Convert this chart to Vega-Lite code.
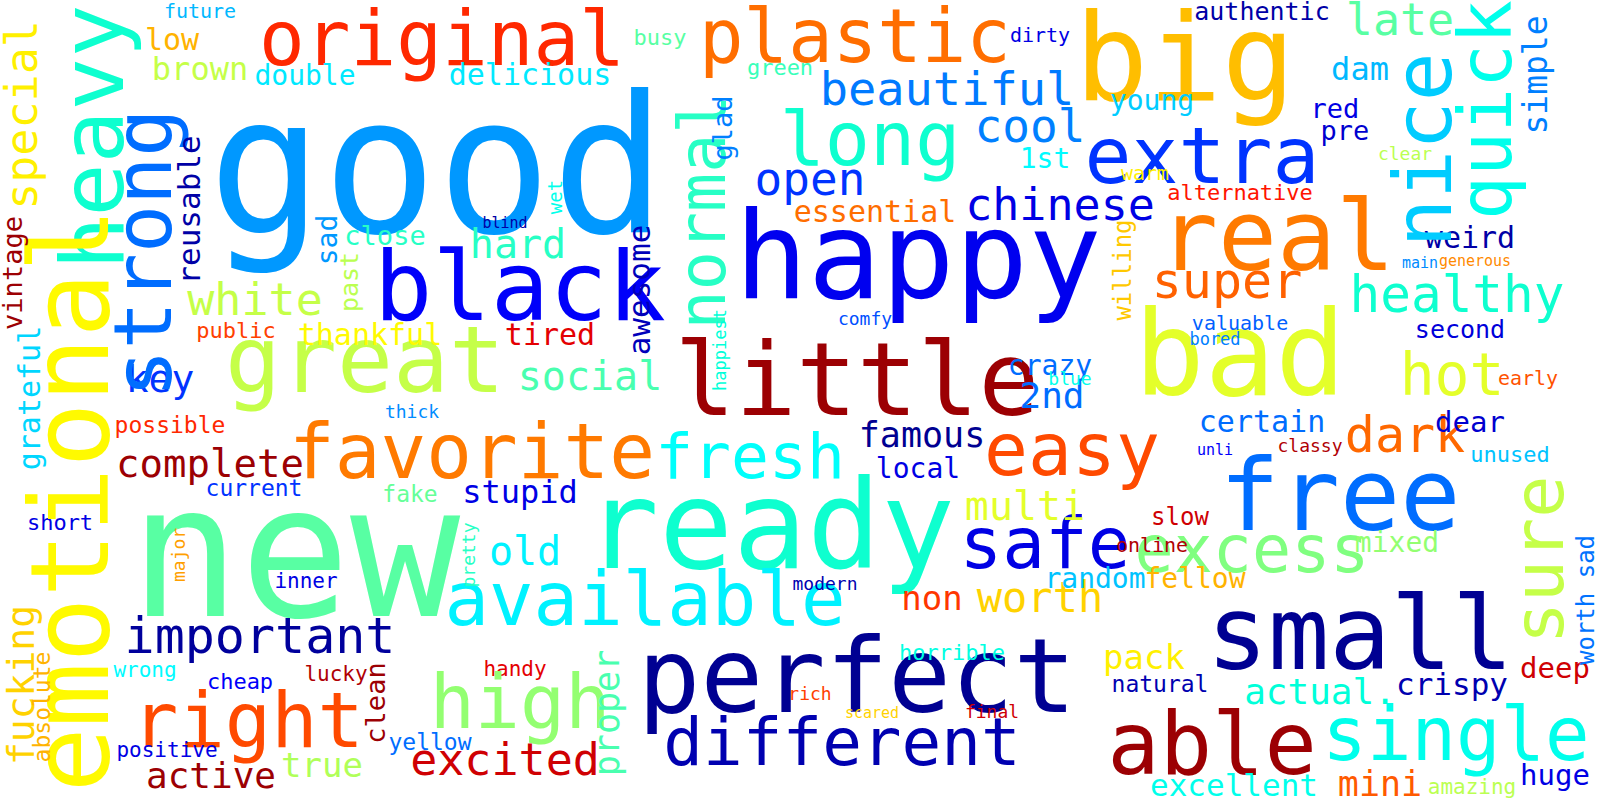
{
  "$schema": "https://vega.github.io/schema/vega-lite/v6.json",
  "width": 1600,
  "height": 800,
  "autosize": "none",
  "padding": 0,
  "background": "white",
  "view": {"stroke": null},
  "data": {
    "values": [
      {"w": "good", "x": 437, "y": 232, "s": 190, "a": 0, "t": 0.27},
      {"w": "original", "x": 442, "y": 65, "s": 76, "a": 0, "t": 0.86},
      {"w": "plastic", "x": 855, "y": 62, "s": 74, "a": 0, "t": 0.78},
      {"w": "big", "x": 1185, "y": 100, "s": 122, "a": 0, "t": 0.69},
      {"w": "happy", "x": 918, "y": 298, "s": 122, "a": 0, "t": 0.11},
      {"w": "black", "x": 520, "y": 320, "s": 97, "a": 0, "t": 0.12},
      {"w": "little", "x": 857, "y": 415, "s": 101, "a": 0, "t": 0.97},
      {"w": "great", "x": 365, "y": 392, "s": 93, "a": 0, "t": 0.57},
      {"w": "new", "x": 295, "y": 616, "s": 183, "a": 0, "t": 0.47},
      {"w": "ready", "x": 770, "y": 568, "s": 123, "a": 0, "t": 0.43},
      {"w": "perfect", "x": 857, "y": 712, "s": 104, "a": 0, "t": 0.02},
      {"w": "different", "x": 842, "y": 765, "s": 66, "a": 0, "t": 0.05},
      {"w": "available", "x": 645, "y": 625, "s": 74, "a": 0, "t": 0.36},
      {"w": "favorite", "x": 472, "y": 478, "s": 76, "a": 0, "t": 0.76},
      {"w": "fresh", "x": 750, "y": 478, "s": 63, "a": 0, "t": 0.38},
      {"w": "easy", "x": 1072, "y": 475, "s": 73, "a": 0, "t": 0.83},
      {"w": "free", "x": 1340, "y": 530, "s": 100, "a": 0, "t": 0.22},
      {"w": "safe", "x": 1045, "y": 568, "s": 71, "a": 0, "t": 0.1},
      {"w": "excess", "x": 1252, "y": 572, "s": 65, "a": 0, "t": 0.5},
      {"w": "small", "x": 1360, "y": 669, "s": 102, "a": 0, "t": 0.02},
      {"w": "able", "x": 1212, "y": 774, "s": 87, "a": 0, "t": 0.97},
      {"w": "single", "x": 1456, "y": 760, "s": 74, "a": 0, "t": 0.4},
      {"w": "real", "x": 1277, "y": 270, "s": 98, "a": 0, "t": 0.76},
      {"w": "bad", "x": 1240, "y": 395, "s": 117, "a": 0, "t": 0.6},
      {"w": "extra", "x": 1202, "y": 183, "s": 78, "a": 0, "t": 0.15},
      {"w": "long", "x": 870, "y": 165, "s": 75, "a": 0, "t": 0.43},
      {"w": "beautiful", "x": 947, "y": 105, "s": 47, "a": 0, "t": 0.24},
      {"w": "cool", "x": 1030, "y": 142, "s": 46, "a": 0, "t": 0.25},
      {"w": "open", "x": 810, "y": 195, "s": 46, "a": 0, "t": 0.15},
      {"w": "chinese", "x": 1060, "y": 220, "s": 45, "a": 0, "t": 0.1},
      {"w": "essential", "x": 875, "y": 222, "s": 30, "a": 0, "t": 0.78},
      {"w": "super", "x": 1227, "y": 298, "s": 50, "a": 0, "t": 0.8},
      {"w": "healthy", "x": 1457, "y": 312, "s": 51, "a": 0, "t": 0.43},
      {"w": "hot", "x": 1452, "y": 395, "s": 58, "a": 0, "t": 0.6},
      {"w": "dark", "x": 1405, "y": 452, "s": 50, "a": 0, "t": 0.79},
      {"w": "certain", "x": 1262, "y": 432, "s": 30, "a": 0, "t": 0.22},
      {"w": "dear", "x": 1470, "y": 432, "s": 29, "a": 0, "t": 0.08},
      {"w": "unused", "x": 1510, "y": 462, "s": 22, "a": 0, "t": 0.31},
      {"w": "famous", "x": 922, "y": 447, "s": 35, "a": 0, "t": 0.02},
      {"w": "local", "x": 918, "y": 478, "s": 28, "a": 0, "t": 0.1},
      {"w": "2nd", "x": 1052, "y": 408, "s": 36, "a": 0, "t": 0.22},
      {"w": "multi", "x": 1025, "y": 520, "s": 40, "a": 0, "t": 0.6},
      {"w": "slow", "x": 1180, "y": 525, "s": 24, "a": 0, "t": 0.92},
      {"w": "online", "x": 1152, "y": 552, "s": 20, "a": 0, "t": 0.95},
      {"w": "non", "x": 932, "y": 610, "s": 34, "a": 0, "t": 0.85},
      {"w": "worth", "x": 1040, "y": 612, "s": 42, "a": 0, "t": 0.67},
      {"w": "random", "x": 1095, "y": 588, "s": 28, "a": 0, "t": 0.31},
      {"w": "fellow", "x": 1195, "y": 588, "s": 28, "a": 0, "t": 0.7},
      {"w": "mixed", "x": 1397, "y": 552, "s": 28, "a": 0, "t": 0.52},
      {"w": "horrible", "x": 952, "y": 660, "s": 22, "a": 0, "t": 0.41},
      {"w": "pack", "x": 1144, "y": 669, "s": 34, "a": 0, "t": 0.64},
      {"w": "natural", "x": 1160, "y": 692, "s": 23, "a": 0, "t": 0.05},
      {"w": "actual.", "x": 1320, "y": 704, "s": 36, "a": 0, "t": 0.42},
      {"w": "crispy", "x": 1452, "y": 695, "s": 31, "a": 0, "t": 0.05},
      {"w": "deep", "x": 1555, "y": 678, "s": 29, "a": 0, "t": 0.92},
      {"w": "excellent", "x": 1234, "y": 796, "s": 31, "a": 0, "t": 0.4},
      {"w": "mini", "x": 1380, "y": 796, "s": 35, "a": 0, "t": 0.81},
      {"w": "amazing", "x": 1472, "y": 794, "s": 21, "a": 0, "t": 0.56},
      {"w": "huge", "x": 1555, "y": 785, "s": 29, "a": 0, "t": 0.1},
      {"w": "dam", "x": 1360, "y": 80, "s": 32, "a": 0, "t": 0.3},
      {"w": "late", "x": 1400, "y": 35, "s": 45, "a": 0, "t": 0.47},
      {"w": "authentic", "x": 1262, "y": 20, "s": 25, "a": 0, "t": 0.04},
      {"w": "dirty", "x": 1040, "y": 42, "s": 20, "a": 0, "t": 0.1},
      {"w": "young", "x": 1152, "y": 110, "s": 28, "a": 0, "t": 0.32},
      {"w": "red", "x": 1335, "y": 118, "s": 27, "a": 0, "t": 0.1},
      {"w": "pre", "x": 1345, "y": 140, "s": 27, "a": 0, "t": 0.08},
      {"w": "clear", "x": 1405, "y": 160, "s": 18, "a": 0, "t": 0.56},
      {"w": "warm", "x": 1145, "y": 180, "s": 20, "a": 0, "t": 0.64},
      {"w": "alternative", "x": 1240, "y": 200, "s": 22, "a": 0, "t": 0.87},
      {"w": "weird", "x": 1470, "y": 248, "s": 30, "a": 0, "t": 0.04},
      {"w": "main", "x": 1420, "y": 268, "s": 15, "a": 0, "t": 0.26},
      {"w": "generous", "x": 1475, "y": 266, "s": 15, "a": 0, "t": 0.74},
      {"w": "comfy", "x": 865, "y": 325, "s": 18, "a": 0, "t": 0.18},
      {"w": "bored", "x": 1215, "y": 345, "s": 17, "a": 0, "t": 0.25},
      {"w": "valuable", "x": 1240, "y": 330, "s": 20, "a": 0, "t": 0.2},
      {"w": "second", "x": 1460, "y": 338, "s": 25, "a": 0, "t": 0.09},
      {"w": "crazy", "x": 1050, "y": 375, "s": 28, "a": 0, "t": 0.22},
      {"w": "blue", "x": 1070, "y": 385, "s": 18, "a": 0, "t": 0.4},
      {"w": "1st", "x": 1045, "y": 168, "s": 28, "a": 0, "t": 0.37},
      {"w": "early", "x": 1528, "y": 385, "s": 20, "a": 0, "t": 0.82},
      {"w": "classy", "x": 1310, "y": 452, "s": 18, "a": 0, "t": 0.95},
      {"w": "unli", "x": 1215, "y": 455, "s": 15, "a": 0, "t": 0.12},
      {"w": "modern", "x": 825, "y": 590, "s": 18, "a": 0, "t": 0.05},
      {"w": "rich", "x": 810, "y": 700, "s": 18, "a": 0, "t": 0.84},
      {"w": "scared", "x": 872, "y": 718, "s": 15, "a": 0, "t": 0.67},
      {"w": "final", "x": 992, "y": 718, "s": 18, "a": 0, "t": 0.92},
      {"w": "green", "x": 780, "y": 75, "s": 22, "a": 0, "t": 0.45},
      {"w": "busy", "x": 660, "y": 45, "s": 22, "a": 0, "t": 0.47},
      {"w": "future", "x": 200, "y": 18, "s": 20, "a": 0, "t": 0.3},
      {"w": "low", "x": 172, "y": 50, "s": 30, "a": 0, "t": 0.7},
      {"w": "brown", "x": 200, "y": 80, "s": 32, "a": 0, "t": 0.57},
      {"w": "double", "x": 305, "y": 85, "s": 28, "a": 0, "t": 0.35},
      {"w": "delicious", "x": 530, "y": 85, "s": 30, "a": 0, "t": 0.35},
      {"w": "close", "x": 385, "y": 245, "s": 27, "a": 0, "t": 0.44},
      {"w": "hard", "x": 518, "y": 258, "s": 40, "a": 0, "t": 0.44},
      {"w": "blind", "x": 505, "y": 228, "s": 15, "a": 0, "t": 0.04},
      {"w": "white", "x": 255, "y": 315, "s": 45, "a": 0, "t": 0.57},
      {"w": "public", "x": 236, "y": 338, "s": 22, "a": 0, "t": 0.84},
      {"w": "thankful", "x": 370, "y": 345, "s": 30, "a": 0, "t": 0.63},
      {"w": "tired", "x": 550, "y": 345, "s": 30, "a": 0, "t": 0.9},
      {"w": "key", "x": 160, "y": 392, "s": 38, "a": 0, "t": 0.15},
      {"w": "social", "x": 590, "y": 390, "s": 40, "a": 0, "t": 0.46},
      {"w": "possible", "x": 170, "y": 433, "s": 23, "a": 0, "t": 0.86},
      {"w": "thick", "x": 412, "y": 418, "s": 18, "a": 0, "t": 0.26},
      {"w": "complete", "x": 210, "y": 477, "s": 39, "a": 0, "t": 0.97},
      {"w": "current", "x": 254, "y": 496, "s": 23, "a": 0, "t": 0.15},
      {"w": "fake", "x": 410, "y": 502, "s": 23, "a": 0, "t": 0.48},
      {"w": "stupid", "x": 520, "y": 503, "s": 32, "a": 0, "t": 0.1},
      {"w": "short", "x": 60, "y": 530, "s": 22, "a": 0, "t": 0.1},
      {"w": "old", "x": 525, "y": 565, "s": 40, "a": 0, "t": 0.36},
      {"w": "inner", "x": 306, "y": 588, "s": 21, "a": 0, "t": 0.1},
      {"w": "important", "x": 260, "y": 653, "s": 50, "a": 0, "t": 0.03},
      {"w": "wrong", "x": 145, "y": 677, "s": 21, "a": 0, "t": 0.37},
      {"w": "cheap", "x": 240, "y": 689, "s": 22, "a": 0, "t": 0.12},
      {"w": "lucky", "x": 336, "y": 681, "s": 21, "a": 0, "t": 0.95},
      {"w": "handy", "x": 515, "y": 676, "s": 21, "a": 0, "t": 0.9},
      {"w": "right", "x": 248, "y": 747, "s": 77, "a": 0, "t": 0.83},
      {"w": "high", "x": 520, "y": 728, "s": 75, "a": 0, "t": 0.52},
      {"w": "positive", "x": 167, "y": 757, "s": 21, "a": 0, "t": 0.1},
      {"w": "yellow", "x": 430, "y": 750, "s": 23, "a": 0, "t": 0.22},
      {"w": "true", "x": 322, "y": 777, "s": 34, "a": 0, "t": 0.55},
      {"w": "active", "x": 211, "y": 788, "s": 36, "a": 0, "t": 0.97},
      {"w": "excited", "x": 505, "y": 775, "s": 45, "a": 0, "t": 0.92},
      {"w": "heavy", "x": 123, "y": 137, "s": 88, "a": 270, "t": 0.43},
      {"w": "emotional", "x": 108, "y": 500, "s": 108, "a": 270, "t": 0.63},
      {"w": "strong", "x": 171, "y": 253, "s": 80, "a": 270, "t": 0.22},
      {"w": "special", "x": 37, "y": 115, "s": 45, "a": 270, "t": 0.64},
      {"w": "reusable", "x": 200, "y": 210, "s": 31, "a": 270, "t": 0.04},
      {"w": "vintage", "x": 22, "y": 273, "s": 27, "a": 270, "t": 0.97},
      {"w": "grateful", "x": 40, "y": 398, "s": 30, "a": 270, "t": 0.33},
      {"w": "sad", "x": 337, "y": 240, "s": 28, "a": 270, "t": 0.27},
      {"w": "past", "x": 358, "y": 282, "s": 25, "a": 270, "t": 0.56},
      {"w": "awesome", "x": 650, "y": 290, "s": 31, "a": 270, "t": 0.06},
      {"w": "normal", "x": 725, "y": 212, "s": 65, "a": 270, "t": 0.44},
      {"w": "glad", "x": 732, "y": 128, "s": 27, "a": 270, "t": 0.25},
      {"w": "wet", "x": 562, "y": 197, "s": 19, "a": 270, "t": 0.4},
      {"w": "happiest", "x": 726, "y": 350, "s": 17, "a": 270, "t": 0.42},
      {"w": "nice", "x": 1451, "y": 150, "s": 81, "a": 270, "t": 0.32},
      {"w": "quick", "x": 1511, "y": 110, "s": 73, "a": 270, "t": 0.4},
      {"w": "simple", "x": 1547, "y": 75, "s": 33, "a": 270, "t": 0.25},
      {"w": "sure", "x": 1563, "y": 560, "s": 70, "a": 270, "t": 0.57},
      {"w": "worth sad", "x": 1594, "y": 600, "s": 24, "a": 270, "t": 0.23},
      {"w": "willing", "x": 1131, "y": 270, "s": 24, "a": 270, "t": 0.68},
      {"w": "fucking", "x": 34, "y": 685, "s": 38, "a": 270, "t": 0.67},
      {"w": "absolute", "x": 50, "y": 707, "s": 23, "a": 270, "t": 0.7},
      {"w": "major", "x": 185, "y": 555, "s": 18, "a": 270, "t": 0.72},
      {"w": "pretty", "x": 475, "y": 555, "s": 18, "a": 270, "t": 0.44},
      {"w": "clean", "x": 385, "y": 703, "s": 27, "a": 270, "t": 0.97},
      {"w": "proper", "x": 619, "y": 713, "s": 35, "a": 270, "t": 0.46}
    ]
  },
  "mark": {"type": "text", "font": "DejaVu Sans Mono", "align": "center", "baseline": "alphabetic"},
  "encoding": {
    "x": {"field": "x", "type": "quantitative", "scale": {"domain": [0, 1600]}, "axis": null},
    "y": {"field": "y", "type": "quantitative", "scale": {"domain": [0, 800], "reverse": true}, "axis": null},
    "text": {"field": "w", "type": "nominal"},
    "size": {"field": "s", "type": "quantitative", "scale": null, "legend": null},
    "angle": {"field": "a", "type": "quantitative", "scale": null},
    "color": {
      "field": "t",
      "type": "quantitative",
      "legend": null,
      "scale": {
        "domain": [0, 0.125, 0.25, 0.375, 0.5, 0.625, 0.75, 0.875, 1],
        "range": ["#00007f", "#0000ff", "#0080ff", "#00ffff", "#80ff80", "#ffff00", "#ff8000", "#ff0000", "#7f0000"]
      }
    }
  }
}
